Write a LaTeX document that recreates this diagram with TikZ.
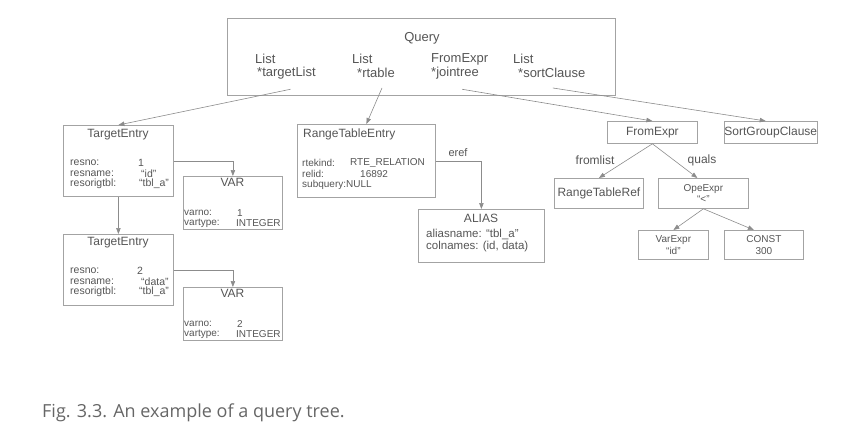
\documentclass[tikz,border=0pt]{standalone}
\usepackage{fontspec}
\setmainfont{Liberation Sans}
\newfontfamily\capfont{Open Sans}
\usetikzlibrary{arrows.meta}
\definecolor{txtgray}{HTML}{555555}
\definecolor{boxgray}{HTML}{A3A3A3}
\definecolor{arrgray}{HTML}{8C8C8C}
\begin{document}
\begin{tikzpicture}[
	x=1pt, y=-1pt,
	every node/.style={ text=txtgray, inner sep=0pt },
	box/.style={ draw=boxgray, line width=0.8pt, anchor=north west, align=center, font=\fontsize{12}{14}\selectfont },
	sbox/.style={ box, font=\fontsize{10}{11.5}\selectfont },
	ttl/.style={ font=\fontsize{12}{14}\selectfont },
	qfld/.style={ anchor=west, font=\fontsize{13}{15}\selectfont },
	fld/.style={ anchor=west, font=\fontsize{10}{12}\selectfont },
	tfld/.style={ anchor=west, font=\fontsize{10.5}{12}\selectfont },
	elbl/.style={ font=\fontsize{12}{14}\selectfont },
	arr/.style={ draw=arrgray, line width=0.6pt, -{Triangle[length=6pt,width=4.5pt]} }
]
\useasboundingbox (0,0) rectangle (846,428);

% Query
\node at (227,18) (query) [box, minimum width=388pt, minimum height=77pt] {};
\node at (422,38) (qtitle) [font=\fontsize{13}{15}\selectfont] {Query};
\node at (255,59) (l1) [qfld] {List};
\node at (257,73) (tl) [qfld] {*targetList};
\node at (352,59) (l2) [qfld] {List};
\node at (357,73) (rt) [qfld] {*rtable};
\node at (431,59) (l3) [qfld] {FromExpr};
\node at (431,73) (jt) [qfld] {*jointree};
\node at (513,59) (l4) [qfld] {List};
\node at (518,73) (sc) [qfld] {*sortClause};

% targetList
\node at (63,125) (te1) [box, minimum width=110pt, minimum height=71pt] {};
\node at (118,135) (te1t) [ttl] {TargetEntry};
\node at (70,163) (te1a) [tfld] {resno:};
\node at (70,174) (te1b) [tfld] {resname:};
\node at (70,184) (te1c) [tfld] {resorigtbl:};
\node at (138,163) (te1av) [tfld] {1};
\node at (141,174) (te1bv) [tfld] {“id”};
\node at (139,184) (te1cv) [tfld] {“tbl\_a”};

\node at (183,176) (var1) [box, minimum width=99pt, minimum height=53pt] {};
\node at (232.5,182) (var1t) [ttl] {VAR};
\node at (184,213) (var1a) [fld] {varno:};
\node at (184,223) (var1b) [fld] {vartype:};
\node at (237,213) (var1av) [fld] {1};
\node at (236,223) (var1bv) [fld] {INTEGER};

\node at (63,234) (te2) [box, minimum width=110pt, minimum height=71pt] {};
\node at (118,243) (te2t) [ttl] {TargetEntry};
\node at (70,271) (te2a) [tfld] {resno:};
\node at (70,282) (te2b) [tfld] {resname:};
\node at (70,292) (te2c) [tfld] {resorigtbl:};
\node at (137,271) (te2av) [tfld] {2};
\node at (141,282) (te2bv) [tfld] {“data”};
\node at (139,292) (te2cv) [tfld] {“tbl\_a”};

\node at (183,287) (var2) [box, minimum width=99pt, minimum height=53pt] {};
\node at (232.5,293) (var2t) [ttl] {VAR};
\node at (184,324) (var2a) [fld] {varno:};
\node at (184,334) (var2b) [fld] {vartype:};
\node at (237,324) (var2av) [fld] {2};
\node at (236,334) (var2bv) [fld] {INTEGER};

% rtable
\node at (297,124) (rte) [box, minimum width=138pt, minimum height=73pt] {};
\node at (303,134) (rtet) [ttl, anchor=west] {RangeTableEntry};
\node at (302,163) (rtea) [fld] {rtekind:};
\node at (302,174) (rteb) [fld] {relid:};
\node at (302,185) (rtec) [fld] {subquery:NULL};
\node at (350,163) (rteav) [fld] {RTE\_RELATION};
\node at (360,174) (rtebv) [fld] {16892};

\node at (418,209) (alias) [box, minimum width=126pt, minimum height=53pt] {};
\node at (481,218) (aliast) [ttl] {ALIAS};
\node at (426,234) (aliasa) [fld, font=\fontsize{11.5}{13}\selectfont] {aliasname: “tbl\_a”};
\node at (426,247) (aliasb) [fld, font=\fontsize{11.5}{13}\selectfont] {colnames: (id, data)};

% jointree, sortClause
\node at (607,121) (fe) [box, minimum width=90pt, minimum height=22pt] {FromExpr};
\node at (724,121) (sgc) [box, minimum width=89pt, minimum height=22pt] {SortGroupClause};
\node at (554,178) (rtr) [box, minimum width=89pt, minimum height=30pt] {RangeTableRef};
\node at (658,178) (oe) [sbox, minimum width=90pt, minimum height=30pt] {OpeExpr\\“<”};
\node at (638,230) (ve) [sbox, minimum width=70pt, minimum height=29pt] {VarExpr\\“id”};
\node at (724,230) (ce) [sbox, minimum width=79pt, minimum height=29pt] {CONST\\300};

% arrows
\draw[arr] ([xshift=4pt,yshift=-10pt]tl.south) to (te1.north);
\draw[arr] ([xshift=6pt,yshift=-10pt]rt.south) to (rte.north);
\draw[arr] ([xshift=7pt,yshift=-10pt]jt.south) to (fe.north);
\draw[arr] ([xshift=1pt,yshift=-10pt]sc.south) to ([xshift=-5pt]sgc.north);
\draw[arr] (te1.east) -| (var1.north);
\draw[arr] (te1.south) to (te2.north);
\draw[arr] (te2.east) -| (var2.north);
\draw[arr] (rte.east) -| (alias.north);
\node at (458,153) (eref) [elbl, font=\fontsize{11}{13}\selectfont] {eref};
\draw[arr] (fe.south) to (rtr.north);
\draw[arr] (fe.south) to ([xshift=-6pt]oe.north);
\node at (595,160) (fromlist) [elbl] {fromlist};
\node at (702,160) (quals) [elbl] {quals};
\draw[arr] (oe.south) to (ve.north);
\draw[arr] (oe.south) to ([xshift=-10pt]ce.north);

% caption
\node at (42,413) (cap) [anchor=west, text=txtgray!90, font=\capfont\fontsize{18}{20}\selectfont] {Fig. 3.3. An example of a query tree.};
\end{tikzpicture}
\end{document}
